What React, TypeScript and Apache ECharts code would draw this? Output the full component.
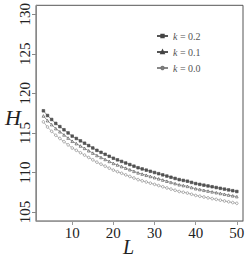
import React, { useEffect, useRef } from "react";
import * as echarts from "echarts";

const lengths = [3,4,5,6,7,8,9,10,11,12,13,14,15,16,17,18,19,20,21,22,23,24,25,26,27,28,29,30,31,32,33,34,35,36,37,38,39,40,41,42,43,44,45,46,47,48,49,50];
const hK02 = [117.8,117.2,116.7,116.2,115.8,115.4,115.0,114.6,114.3,114.0,113.7,113.4,113.1,112.8,112.55,112.3,112.05,111.8,111.6,111.4,111.2,111.0,110.8,110.6,110.45,110.3,110.15,110.0,109.85,109.7,109.55,109.4,109.25,109.1,109.0,108.9,108.75,108.6,108.5,108.4,108.3,108.2,108.1,108.0,107.9,107.8,107.7,107.6];
const hK01 = [117.15,116.55,116.05,115.55,115.15,114.75,114.35,113.95,113.65,113.35,113.05,112.75,112.45,112.15,111.9,111.65,111.4,111.15,110.95,110.75,110.55,110.35,110.15,109.95,109.8,109.65,109.5,109.35,109.2,109.05,108.9,108.75,108.6,108.45,108.35,108.25,108.1,107.95,107.85,107.75,107.65,107.55,107.45,107.35,107.25,107.15,107.05,106.95];
const hK00 = [116.4,115.75,115.2,114.7,114.3,113.9,113.5,113.1,112.8,112.5,112.2,111.9,111.6,111.3,111.05,110.8,110.55,110.3,110.1,109.9,109.7,109.5,109.3,109.1,108.95,108.8,108.65,108.5,108.35,108.2,108.05,107.9,107.75,107.6,107.5,107.4,107.25,107.1,107.0,106.9,106.8,106.7,106.6,106.5,106.4,106.3,106.2,106.1];
const seriesNames = ["k = 0.2", "k = 0.1", "k = 0.0"];
const xTicks = [10, 20, 30, 40, 50];
const yTicks = [105, 110, 115, 120, 125, 130];

const SERIF = "Liberation Serif";

export default function App() {
  const ref = useRef<HTMLDivElement>(null);
  useEffect(() => {
    if (!ref.current) return;
    const chart = echarts.init(ref.current, undefined, { renderer: "svg" });
    const mk = (vals: number[]) => lengths.map((l, i) => [l, vals[i]]);
    const styles = [
      { symbol: "rect", color: "#444", fill: "#555", line: "#555" },
      { symbol: "triangle", color: "#444", fill: "#fff", line: "#555" },
      { symbol: "circle", color: "#777", fill: "#fff", line: "#888" },
    ];
    const datas = [hK02, hK01, hK00];
    chart.setOption({
      animation: false,
      grid: {
        left: 36,
        right: 6,
        top: 4,
        bottom: 38,
        show: true,
        borderColor: "#555",
        borderWidth: 1,
      },
      legend: {
        orient: "vertical",
        left: 151,
        top: 26,
        itemWidth: 11,
        itemHeight: 3,
        itemGap: 6,
        textStyle: {
          fontFamily: SERIF,
          fontSize: 10,
          color: "#555",
          rich: { i: { fontStyle: "italic", fontFamily: SERIF, fontSize: 10, color: "#555" } },
        },
        formatter: (name: string) => "{i|k}" + name.slice(1),
        data: seriesNames,
      },
      xAxis: {
        type: "value",
        min: 1.2,
        max: 51.5,
        axisLine: { show: true, lineStyle: { color: "#999", width: 1 } },
        axisTick: { show: true, length: 4, lineStyle: { color: "#999" }, customValues: xTicks },
        axisLabel: { customValues: xTicks, fontFamily: SERIF, fontSize: 15, color: "#222", margin: 4 },
        splitLine: { show: false },
      },
      yAxis: {
        type: "value",
        min: 103.87,
        max: 131.13,
        axisLine: { show: true, lineStyle: { color: "#888", width: 1 } },
        axisTick: { show: true, length: 4, lineStyle: { color: "#888" }, customValues: yTicks },
        axisLabel: { customValues: yTicks, rotate: 90, fontFamily: SERIF, fontSize: 15, color: "#222", margin: 4 },
        splitLine: { show: false },
      },
      graphic: [
        { type: "text", left: 5, top: 106, style: { text: "H", fontFamily: SERIF, fontStyle: "italic", fontSize: 22, fill: "#222" } },
        { type: "text", left: 123, top: 237, style: { text: "L", fontFamily: SERIF, fontStyle: "italic", fontSize: 20, fill: "#222" } },
      ],
      series: datas.map((d, i) => ({
        name: seriesNames[i],
        type: "line",
        data: mk(d),
        symbol: styles[i].symbol,
        symbolSize: 2.6,
        showSymbol: true,
        lineStyle: { color: styles[i].line, width: 0.6 },
        itemStyle: { color: styles[i].fill, borderColor: styles[i].color, borderWidth: 0.6 },
      })),
    });
    return () => chart.dispose();
  }, []);
  return <div ref={ref} style={{ position: "absolute", left: 0, top: 0, width: 249, height: 259 }} />;
}
